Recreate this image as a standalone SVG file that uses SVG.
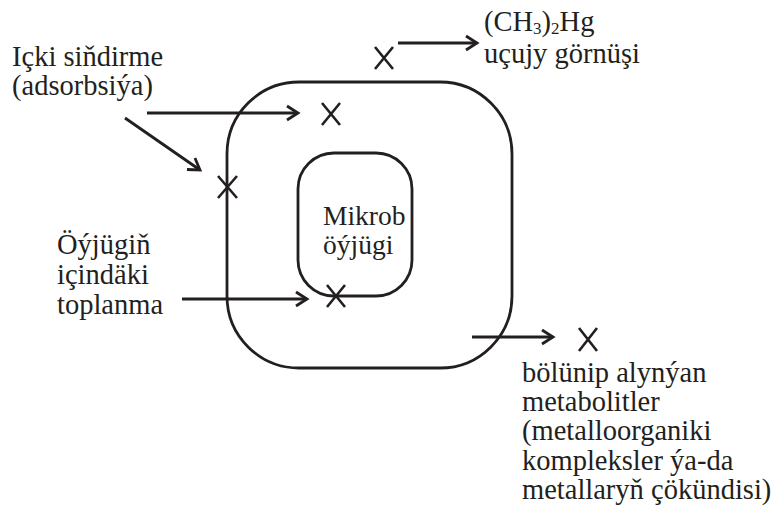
<svg xmlns="http://www.w3.org/2000/svg" width="782" height="519" viewBox="0 0 782 519">
<style>
.t{font-family:'Liberation Serif',serif;font-size:28.5px;fill:#231f20}
.m{font-size:27.5px}
.s{stroke:#231f20;stroke-width:2.8;fill:none}
.x{stroke:#231f20;stroke-width:2.6;fill:none}
</style>
<defs>
<marker id="ah" markerUnits="userSpaceOnUse" markerWidth="20" markerHeight="20" viewBox="-12 -10 14 20" refX="0" refY="0" orient="auto">
<path d="M-11,-7 L0,0 L-11,7" stroke="#231f20" stroke-width="2.8" fill="none"/>
</marker>
</defs>
<rect width="782" height="519" fill="#fff"/>
<g id="outer-cell">
<rect class="s" x="227" y="82" width="285" height="286" rx="72" ry="72"/>
</g>
<g id="microbe-cell">
<rect class="s" x="298" y="153" width="114" height="143" rx="36" ry="36"/>
<text class="t m" x="323" y="225">Mikrob</text>
<text class="t m" x="323" y="254">öýjügi</text>
</g>
<g id="label-adsorption">
<text class="t" x="12" y="66">Içki siňdirme</text>
<text class="t" x="12" y="95">(adsorbsiýa)</text>
</g>
<g id="label-volatile">
<text class="t" x="484" y="31">(CH<tspan font-size="17" dy="3">3</tspan><tspan dy="-3">)</tspan><tspan font-size="17" dy="3">2</tspan><tspan dy="-3">Hg</tspan></text>
<text class="t" x="484" y="63">uçujy görnüşi</text>
</g>
<g id="label-accumulation">
<text class="t" x="57" y="254">Öýjügiň</text>
<text class="t" x="57" y="284">içindäki</text>
<text class="t" x="57" y="314">toplanma</text>
</g>
<g id="label-metabolites">
<text class="t" x="522" y="382">bölünip alynýan</text>
<text class="t" x="522" y="411">metabolitler</text>
<text class="t" x="522" y="440">(metalloorganiki</text>
<text class="t" x="522" y="470">kompleksler ýa-da</text>
<text class="t" x="522" y="499">metallaryň çökündisi)</text>
</g>
<g id="marks">
<path class="x" d="M375,47 L393,69 M393,47 L375,69"/>
<path class="x" d="M322,103 L340,125 M340,103 L322,125"/>
<path class="x" d="M218,176 L237,198 M237,176 L218,198"/>
<path class="x" d="M327,285 L345,307 M345,285 L327,307"/>
<path class="x" d="M579,328 L597,351 M597,328 L579,351"/>
</g>
<g id="connectors">
<line class="s" x1="398" y1="43" x2="477" y2="43" marker-end="url(#ah)"/>
<line class="s" x1="147" y1="113" x2="298" y2="113" marker-end="url(#ah)"/>
<line class="s" x1="125" y1="118" x2="200" y2="170" marker-end="url(#ah)"/>
<line class="s" x1="182" y1="299" x2="307" y2="299" marker-end="url(#ah)"/>
<line class="s" x1="472" y1="337" x2="553" y2="337" marker-end="url(#ah)"/>
</g>
</svg>
